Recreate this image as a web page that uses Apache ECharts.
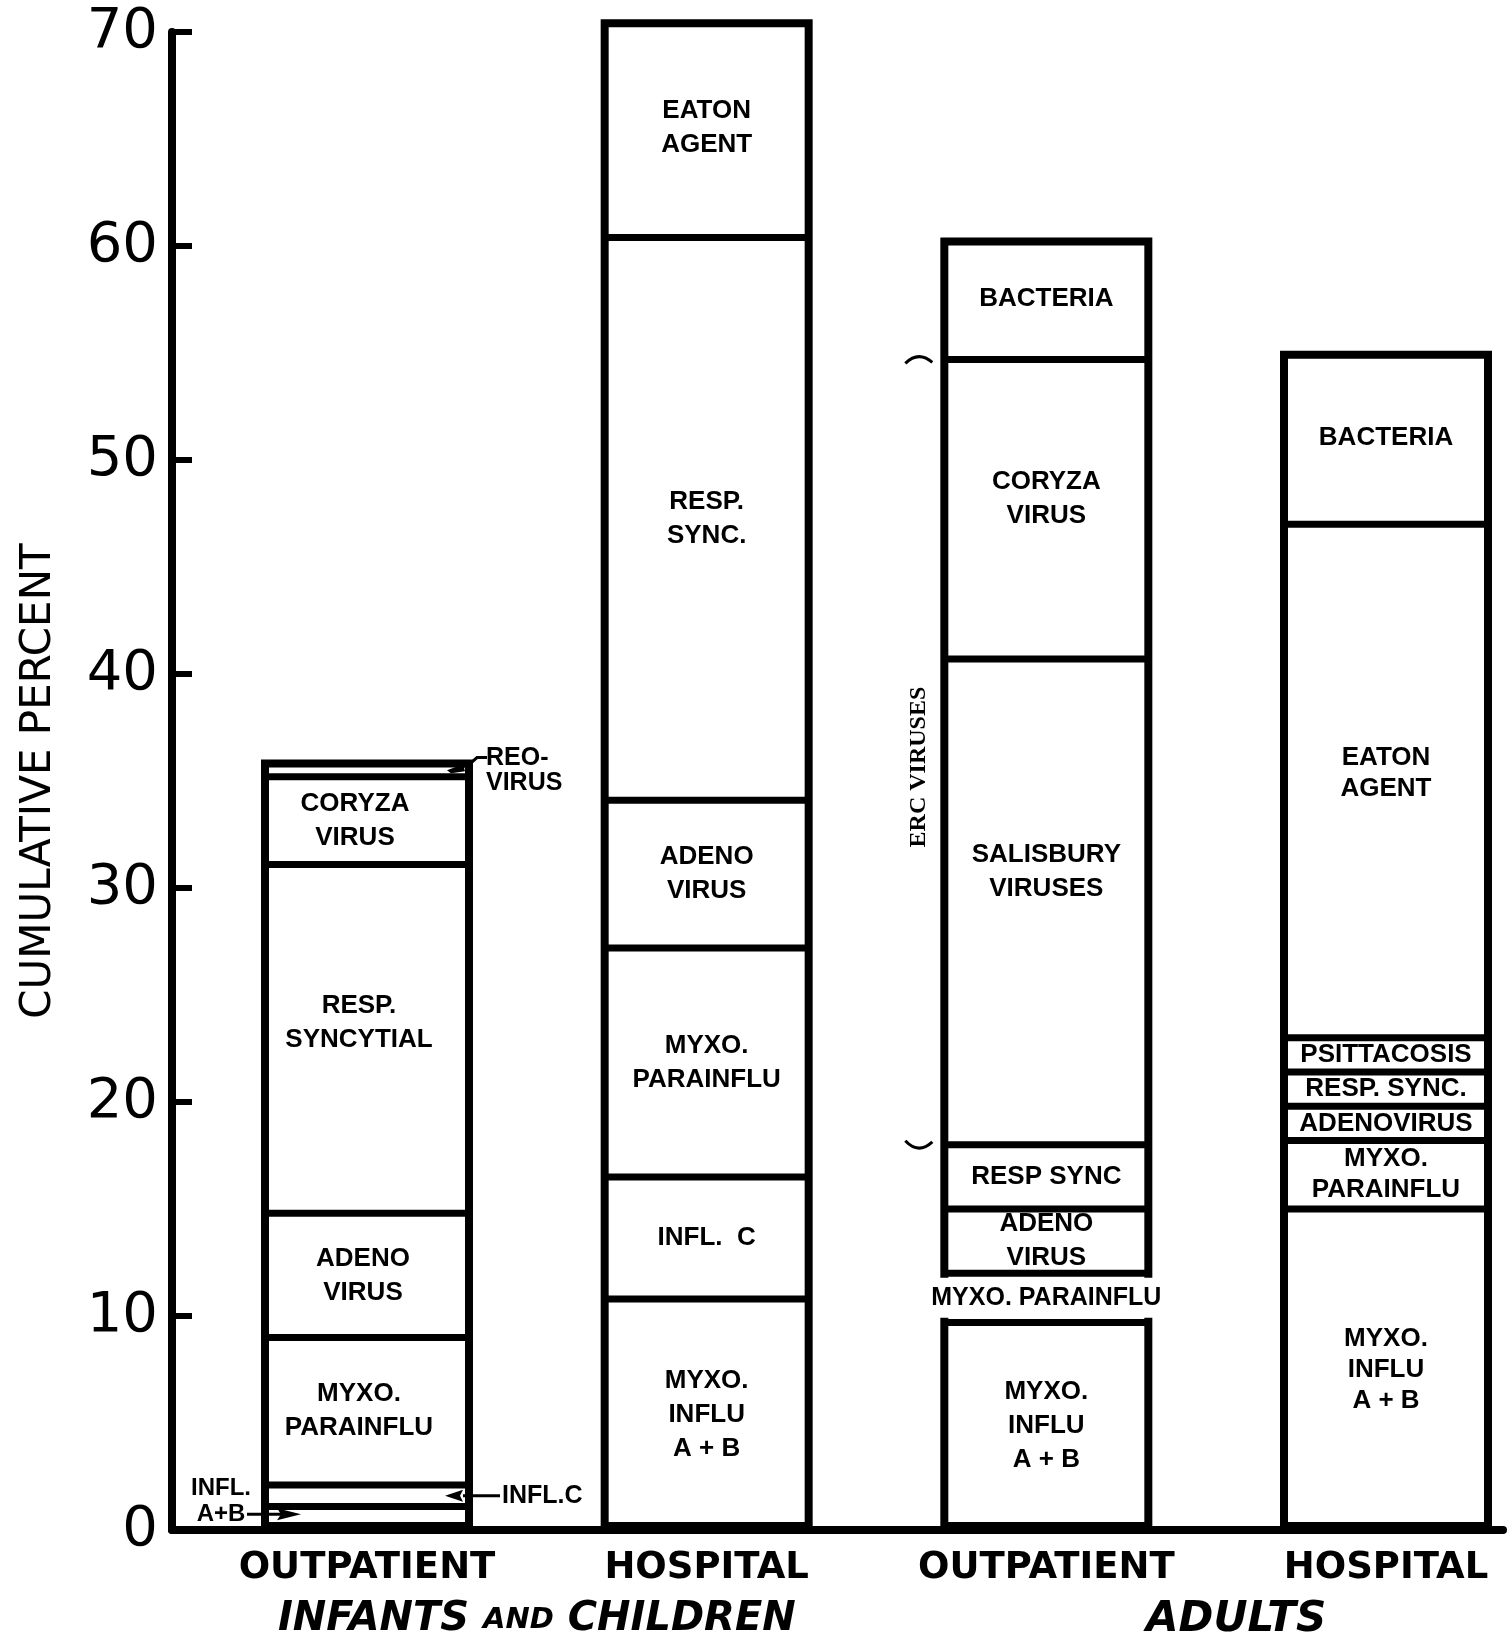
<!DOCTYPE html>
<html><head><meta charset="utf-8">
<script src="https://cdn.jsdelivr.net/npm/echarts@6/dist/echarts.min.js"></script>
<style>html,body{margin:0;padding:0;background:#fff}#chart{width:1508px;height:1640px}</style>
</head><body><div id="chart"></div>
<script>
// ---- data ----
const categories = ['OUTPATIENT', 'HOSPITAL', 'OUTPATIENT', 'HOSPITAL'];
const groupNames = ['INFANTS AND CHILDREN', 'ADULTS'];
const yAxisTitle = 'CUMULATIVE PERCENT';
const yMin = 0, yMax = 70, yStep = 10;

// segments from bottom to top (percent)
const infantsOutpatientValues = [1.1, 1.0, 6.9, 5.8, 16.3, 4.1, 0.8];
const infantsOutpatientNames = ['INFL.\nA+B', 'INFL.C', 'MYXO.\nPARAINFLU', 'ADENO\nVIRUS', 'RESP.\nSYNCYTIAL', 'CORYZA\nVIRUS', 'REO-\nVIRUS'];
const infantsHospitalValues = [10.8, 5.7, 10.7, 6.9, 26.3, 10.2];
const infantsHospitalNames = ['MYXO.\nINFLU\nA + B', 'INFL.  C', 'MYXO.\nPARAINFLU', 'ADENO\nVIRUS', 'RESP.\nSYNC.', 'EATON\nAGENT'];
const adultsOutpatientValues = [9.7, 2.3, 3.0, 3.0, 22.7, 14.0, 5.7];
const adultsOutpatientNames = ['MYXO.\nINFLU\nA + B', 'MYXO. PARAINFLU', 'ADENO\nVIRUS', 'RESP SYNC', 'SALISBURY\nVIRUSES', 'CORYZA\nVIRUS', 'BACTERIA'];
const adultsHospitalValues = [15.0, 3.2, 1.6, 1.6, 1.6, 24.0, 8.1];
const adultsHospitalNames = ['MYXO.\nINFLU\nA + B', 'MYXO.\nPARAINFLU', 'ADENOVIRUS', 'RESP. SYNC.', 'PSITTACOSIS', 'EATON\nAGENT', 'BACTERIA'];
const ercBracketLabel = 'ERC VIRUSES';

// ---- build ----
const bars = [
  {values: infantsOutpatientValues, names: infantsOutpatientNames},
  {values: infantsHospitalValues, names: infantsHospitalNames},
  {values: adultsOutpatientValues, names: adultsOutpatientNames},
  {values: adultsHospitalValues, names: adultsHospitalNames}
];
const cum = bars.map(b => { let s = 0; return b.values.map(v => (s += v)); });
const totals = cum.map(c => c[c.length - 1]);
const boundaries = [];
cum.forEach((c, i) => c.slice(0, -1).forEach(v => boundaries.push([i, v])));
const outsideLabels = {'0-0': 1, '0-1': 1, '0-6': 1};
const labelOffsets = {'0-2': [-8, 0], '0-3': [-4, 0], '0-4': [-8, -16], '0-5': [-12, 0], '2-4': [0, -30], '2-5': [0, -10], '3-5': [0, -8]};
const BAR_W = 212;
const levels = Math.max(...bars.map(b => b.values.length));
const series = [];
// outer frame of each column
series.push({
  type: 'bar', barWidth: BAR_W, clip: false, silent: true, z: 2,
  xAxisIndex: 1, yAxisIndex: 1,
  data: totals,
  itemStyle: {color: '#fff', borderColor: '#000', borderWidth: 8},
  label: {show: false}, emphasis: {disabled: true}
});
for (let k = 0; k < levels; k++) {
  const data = bars.map((b, i) => {
    if (k >= b.values.length) return {value: '-', name: ''};
    const key = i + '-' + k;
    const item = {value: b.values[k], name: b.names[k], label: {show: !outsideLabels[key]}};
    if (labelOffsets[key]) item.label.offset = labelOffsets[key];
    if (i === 3) item.label.lineHeight = 31;
    if (key === '2-1') { item.label.backgroundColor = '#fff'; item.label.padding = [3, 1]; item.label.fontSize = 25; }
    return item;
  });
  series.push({
    type: 'bar', stack: 'total', barWidth: BAR_W, barGap: '-100%', clip: false, silent: true, z: 4,
    xAxisIndex: 1, yAxisIndex: 1,
    data: data,
    itemStyle: {color: 'rgba(255,255,255,0)', borderWidth: 0},
    label: {show: true, position: 'inside', formatter: p => p.data.name || '', color: '#000',
      fontFamily: 'Liberation Sans', fontWeight: 'bold', fontSize: 26, lineHeight: 34},
    emphasis: {disabled: true}
  });
}
// dividing lines between stacked segments
series.push({
  type: 'custom', xAxisIndex: 1, yAxisIndex: 1, silent: true, z: 3, clip: false,
  data: boundaries,
  renderItem: (params, api) => {
    const p = api.coord([api.value(0), api.value(1)]);
    return {type: 'line', shape: {x1: p[0] - BAR_W / 2 + 2, y1: p[1], x2: p[0] + BAR_W / 2 - 2, y2: p[1]},
      style: {stroke: '#000', lineWidth: 7}};
  }
});

const chart = echarts.init(document.getElementById('chart'));
chart.setOption({
  animation: false,
  backgroundColor: '#fff',
  grid: [
    {left: 172, right: 5, top: 32, bottom: 110, containLabel: false},
    {left: 367, width: 1019, top: 32, bottom: 110, containLabel: false}
  ],
  xAxis: [
    {gridIndex: 0, type: 'value', min: 0, max: 1,
      axisLine: {show: true, onZero: false, lineStyle: {color: '#000', width: 8}},
      axisTick: {show: false}, splitLine: {show: false}, axisLabel: {show: false}},
    {gridIndex: 1, type: 'category', data: categories, boundaryGap: false,
      axisLine: {show: false}, axisTick: {show: false}, splitLine: {show: false},
      axisLabel: {color: '#000', fontFamily: 'DejaVu Sans', fontWeight: 'bold', fontSize: 37, margin: 20, interval: 0}}
  ],
  yAxis: [
    {gridIndex: 0, type: 'value', min: yMin, max: yMax, interval: yStep,
      name: yAxisTitle, nameLocation: 'middle', nameRotate: 90, nameGap: 112,
      nameTextStyle: {color: '#000', fontFamily: 'DejaVu Sans', fontSize: 42},
      axisLine: {show: true, onZero: false, lineStyle: {color: '#000', width: 8}},
      axisTick: {show: true, inside: true, length: 20, lineStyle: {color: '#000', width: 6}},
      axisLabel: {color: '#000', fontFamily: 'DejaVu Sans', fontSize: 56, margin: 14},
      splitLine: {show: false}},
    {gridIndex: 1, type: 'value', min: yMin, max: yMax, interval: yStep, show: false}
  ],
  series: series
});

// ---- annotations positioned through the axes ----
const px = (x, y) => chart.convertToPixel({xAxisIndex: 1, yAxisIndex: 1}, [x, y]);
const half = BAR_W / 2;
const g = [];
const base = px(0, 0)[1];
const Z = 100;
const txt = (text, x, y, font, align, valign, extra) => ({type: 'text', silent: true, z: Z, x: x, y: y,
  style: Object.assign({text: text, font: font, fill: '#000', align: align, verticalAlign: valign}, extra || {})});

// group labels
const gx0 = (px(0, 0)[0] + px(1, 0)[0]) / 2;
const gx1 = (px(2, 0)[0] + px(3, 0)[0]) / 2 + 20;
g.push({type: 'text', silent: true, z: Z, x: gx0, y: base + 90,
  style: {text: '{a|INFANTS }{b|AND}{a| CHILDREN}', align: 'center', verticalAlign: 'middle', fill: '#000',
    rich: {a: {fontFamily: 'DejaVu Sans', fontStyle: 'italic', fontWeight: 'bold', fontSize: 40, fill: '#000'},
           b: {fontFamily: 'DejaVu Sans', fontStyle: 'italic', fontWeight: 'bold', fontSize: 29, fill: '#000'}}}});
g.push(txt('ADULTS', gx1, base + 90, 'italic bold 42px "DejaVu Sans"', 'center', 'middle'));

// bar 1 outside labels
const c0 = px(0, 0)[0], bl0 = c0 - half, br0 = c0 + half;
// INFL. A+B
const yAB = px(0, bars[0].values[0] / 2)[1] - 4;
g.push(txt('INFL.\nA+B', bl0 - 40, yAB + 13, 'bold 24px "Liberation Sans"', 'center', 'bottom', {lineHeight: 26}));
g.push({type: 'line', silent: true, z: Z, shape: {x1: bl0 - 14, y1: yAB, x2: bl0 + 20, y2: yAB}, style: {stroke: '#000', lineWidth: 3}});
g.push({type: 'polygon', silent: true, z: Z, shape: {points: [[bl0 + 40, yAB], [bl0 + 16, yAB - 6], [bl0 + 20, yAB], [bl0 + 16, yAB + 6]]}, style: {fill: '#000'}});
// INFL.C
const yC = px(0, cum[0][0] + bars[0].values[1] / 2)[1];
g.push(txt('INFL.C', br0 + 29, yC, 'bold 25px "Liberation Sans"', 'left', 'middle'));
g.push({type: 'line', silent: true, z: Z, shape: {x1: br0 - 10, y1: yC, x2: br0 + 27, y2: yC}, style: {stroke: '#000', lineWidth: 3}});
g.push({type: 'polygon', silent: true, z: Z, shape: {points: [[br0 - 28, yC], [br0 - 10, yC - 6], [br0 - 13, yC], [br0 - 10, yC + 6]]}, style: {fill: '#000'}});
// REO-VIRUS
const yR = px(0, cum[0][5] + bars[0].values[6] / 2)[1];
const yRt = px(0, cum[0][6])[1];
g.push(txt('REO-\nVIRUS', br0 + 13, yRt - 14, 'bold 25px "Liberation Sans"', 'left', 'top', {lineHeight: 25}));
g.push({type: 'polyline', silent: true, z: Z, shape: {points: [[br0 - 8, yR], [br0 + 4, yRt - 2], [br0 + 14, yRt - 2]]}, style: {stroke: '#000', lineWidth: 3, fill: null}});
g.push({type: 'polygon', silent: true, z: Z, shape: {points: [[br0 - 26, yR + 2], [br0 - 10, yR - 4], [br0 - 8, yR + 3], [br0 - 22, yR + 5]]}, style: {fill: '#000'}});

// ERC viruses bracket beside adult outpatient
const bl2 = px(2, 0)[0] - half;
const yTop = px(2, cum[2][5])[1], yBot = px(2, cum[2][3])[1];
g.push({type: 'bezierCurve', silent: true, z: Z, shape: {x1: bl2 - 35, y1: yTop + 4, cpx1: bl2 - 22, cpy1: yTop - 9, x2: bl2 - 8, y2: yTop + 3}, style: {stroke: '#000', lineWidth: 3, fill: null}});
g.push({type: 'bezierCurve', silent: true, z: Z, shape: {x1: bl2 - 35, y1: yBot - 4, cpx1: bl2 - 22, cpy1: yBot + 10, x2: bl2 - 8, y2: yBot - 3}, style: {stroke: '#000', lineWidth: 3, fill: null}});
g.push({type: 'text', silent: true, z: Z, x: bl2 - 22, y: px(2, (cum[2][3] + cum[2][5]) / 2 - 0.7)[1], rotation: Math.PI / 2,
  style: {text: ercBracketLabel, font: 'bold 24px "Liberation Serif"', fill: '#000', align: 'center', verticalAlign: 'middle'}});

chart.setOption({graphic: g});
</script></body></html>
